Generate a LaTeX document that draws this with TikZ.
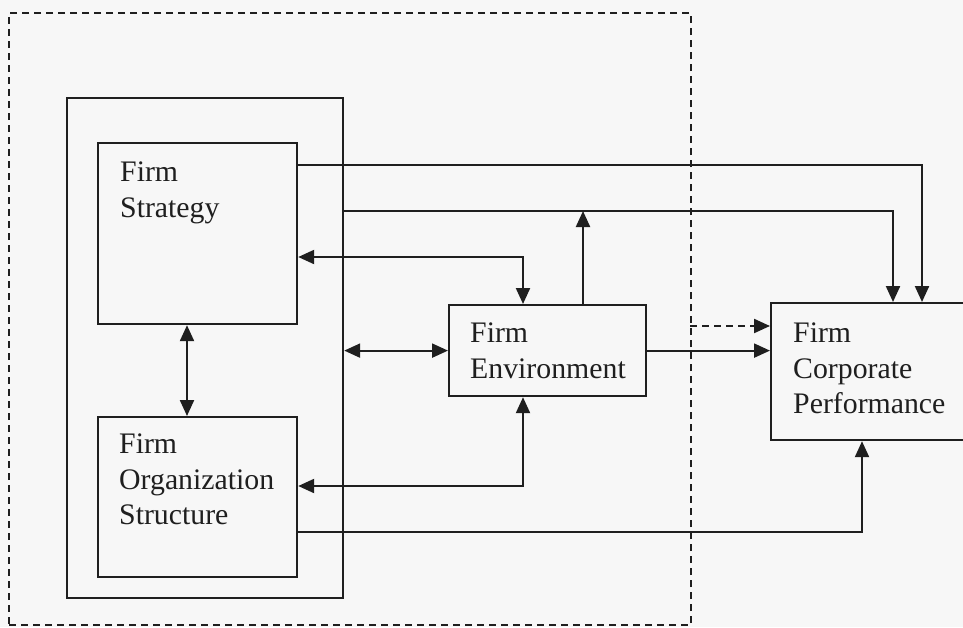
\documentclass[tikz,border=0pt]{standalone}
\usepackage{fontspec}
\setmainfont{Liberation Serif}
\usetikzlibrary{arrows.meta}
\begin{document}
\begin{tikzpicture}[x=1pt,y=-1pt,
  ink/.style={draw=black!88,line width=2.2pt},
  boxnode/.style={ink,rectangle,inner sep=0pt,anchor=north west},
  lbl/.style={anchor=north west,align=left,inner sep=0pt,text=black!88,
    font=\fontsize{29.8}{35.5}\selectfont},
  arr/.style={ink,-{Triangle[length=16pt,width=14pt]}},
  darr/.style={ink,{Triangle[length=16pt,width=14pt]}-{Triangle[length=16pt,width=14pt]}},
  dsh/.style={dash pattern=on 7pt off 5pt}]
\useasboundingbox[fill=black!3] (0,0) rectangle (963,627);
% frames
\node[boxnode,dsh,minimum width=682,minimum height=612] (frame) at (8,12) {};
\node[boxnode,minimum width=276,minimum height=500] (outer) at (66,97) {};
% boxes
\node[boxnode,minimum width=199,minimum height=181] (strat) at (97,142) {};
\node[boxnode,minimum width=199,minimum height=160] (org) at (97,416) {};
\node[boxnode,minimum width=197,minimum height=91] (env) at (448,304) {};
\node[boxnode,minimum width=200,minimum height=137] (perf) at (770,302) {};
% labels
\node[lbl] (stratT) at (120,162) {Firm\\Strategy};
\node[lbl] (orgT) at (119,434) {Firm\\Organization\\Structure};
\node[lbl] (envT) at (470,323) {Firm\\Environment};
\node[lbl] (perfT) at (793,323) {Firm\\Corporate\\Performance};
% helper coordinates
\coordinate (tee) at (583,211);
\coordinate (d1) at (690,326);
% connectors
\draw[arr] ([yshift=-23pt]strat.north east) -| ([xshift=152pt]perf.north west);
\draw[arr] ([yshift=-114pt]outer.north east) -| ([xshift=123pt]perf.north west);
\draw[darr] ([yshift=-115pt]strat.north east) -| ([xshift=75pt]env.north west);
\draw[arr] ([xshift=135pt]env.north west) -- (tee);
\draw[darr] ([xshift=90pt]strat.south west) -- ([xshift=90pt]org.north west);
\draw[darr] (outer.east |- env.west) -- (env.west);
\draw[arr,dsh] (d1) -- (perf.west |- d1);
\draw[arr] (env.east) -- (env.east -| perf.west);
\draw[darr] ([yshift=-70pt]org.north east) -| ([xshift=75pt]env.south west);
\draw[arr] ([yshift=-116pt]org.north east) -| ([xshift=92pt]perf.south west);
\end{tikzpicture}
\end{document}
